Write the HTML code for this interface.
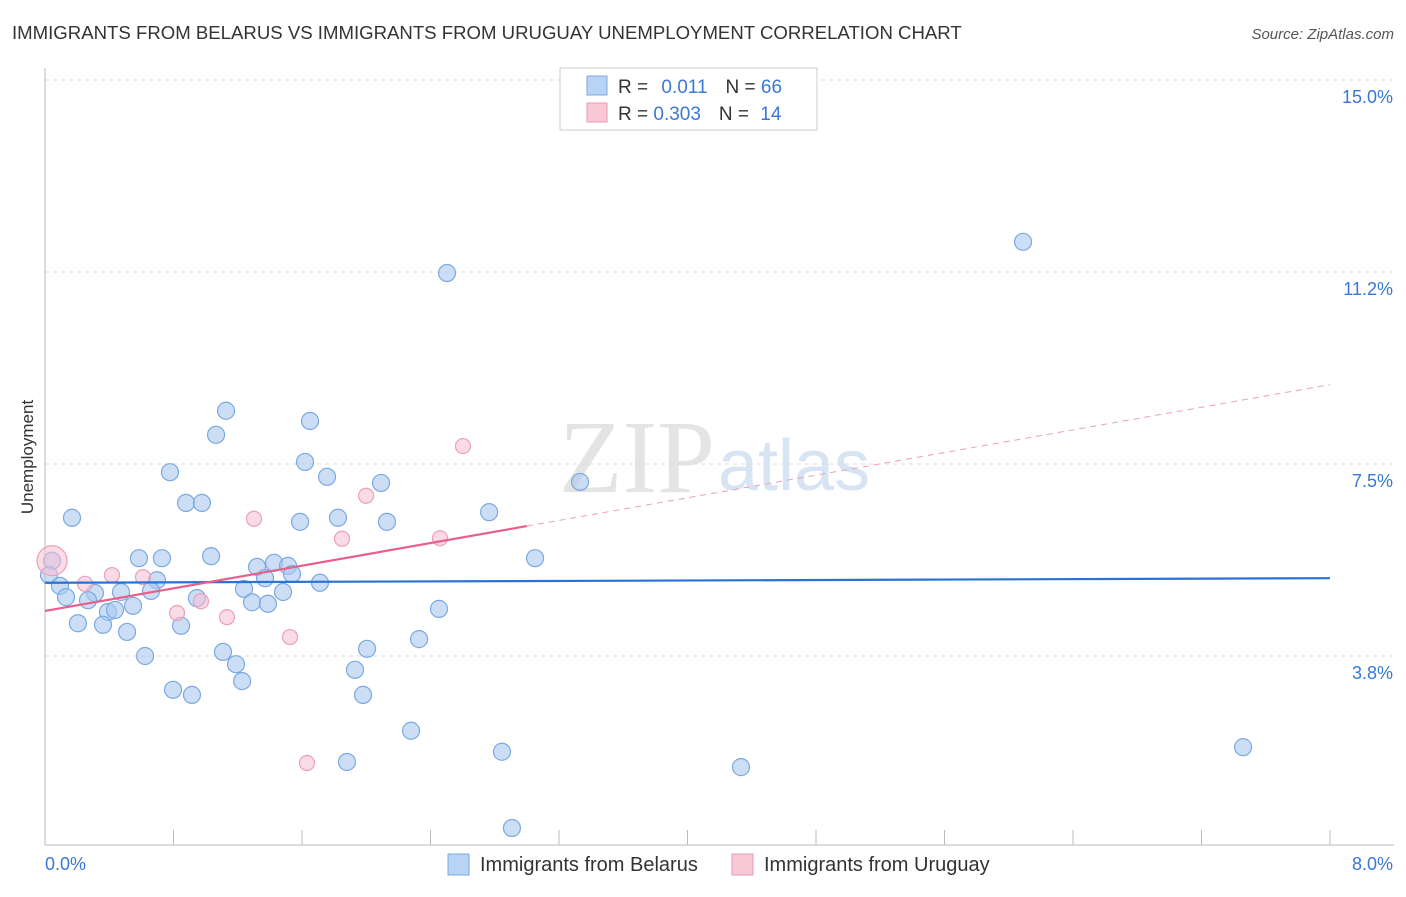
<!DOCTYPE html>
<html><head><meta charset="utf-8"><style>
body{margin:0;background:#fff;font-family:"Liberation Sans",sans-serif;}
</style></head><body>
<svg width="1406" height="892" xmlns="http://www.w3.org/2000/svg" font-family="Liberation Sans, sans-serif">
<text x="12" y="39" font-size="18.6" fill="#333">IMMIGRANTS FROM BELARUS VS IMMIGRANTS FROM URUGUAY UNEMPLOYMENT CORRELATION CHART</text>
<text x="1394" y="39" font-size="15" fill="#555" font-style="italic" text-anchor="end">Source: ZipAtlas.com</text>
<text x="715" y="492" font-size="104" fill="#e4e4e4" text-anchor="end" font-family="Liberation Serif, serif">ZIP</text>
<text x="718" y="490" font-size="72" fill="#d6e4f4">atlas</text>
<g id="grid"></g>
<g id="axes"></g>
<text transform="translate(33,457) rotate(-90)" font-size="17" fill="#333" text-anchor="middle">Unemployment</text>
<g id="marks"></g>
<g>
<rect x="560" y="68" width="257" height="62" fill="#fff" stroke="#ccc"/>
<rect x="587" y="76" width="20" height="19" fill="#b8d4f4" stroke="#7aaae0"/>
<rect x="587" y="103" width="20" height="19" fill="#f8c8d6" stroke="#e89ab2"/>
<text x="618" y="93" font-size="19" fill="#333">R = <tspan fill="#3a78d4" dx="8">0.011</tspan><tspan dx="18" fill="#333">N = </tspan><tspan fill="#3a78d4">66</tspan></text>
<text x="618" y="120" font-size="19" fill="#333">R = <tspan fill="#3a78d4">0.303</tspan><tspan dx="18" fill="#333">N = </tspan><tspan fill="#3a78d4" dx="6">14</tspan></text>
</g>
<g>
<rect x="448" y="854" width="21" height="21" fill="#b8d4f4" stroke="#7aaae0"/>
<text x="480" y="871" font-size="20" fill="#333">Immigrants from Belarus</text>
<rect x="732" y="854" width="21" height="21" fill="#f8c8d6" stroke="#e89ab2"/>
<text x="764" y="871" font-size="20" fill="#333">Immigrants from Uruguay</text>
</g>
</svg>
<script>
const yTicks=[3.75,7.5,11.25,15];
const yTickLabels=["3.8%","7.5%","11.2%","15.0%"];
const xTickLabels=["0.0%","8.0%"];
const belX=[2.503,6.089,1.127,1.065,1.650,1.619,0.778,1.756,2.092,3.331,0.878,0.977,0.168,2.765,1.588,1.824,2.129,0.585,0.728,1.034,3.051,0.044,0.025,0.093,0.131,0.311,0.268,0.473,0.697,0.660,1.320,1.426,1.513,1.370,1.538,1.239,1.712,0.946,1.289,1.388,1.482,0.392,0.436,0.548,0.205,0.361,0.511,0.847,2.453,2.329,0.623,1.108,1.189,2.005,1.930,1.227,0.797,0.915,1.980,2.279,2.845,1.880,4.333,7.459,2.907];
const belY=[11.23,11.84,8.54,8.07,8.34,7.54,7.34,7.25,7.13,7.15,6.74,6.74,6.45,6.56,6.37,6.45,6.37,5.66,5.66,5.70,5.66,5.61,5.33,5.12,4.90,4.98,4.84,5.00,5.23,5.02,5.49,5.57,5.51,5.27,5.35,5.06,5.18,4.88,4.80,4.77,5.00,4.61,4.65,4.73,4.39,4.36,4.22,4.34,4.67,4.08,3.75,3.83,3.59,3.89,3.48,3.26,3.09,2.99,2.99,2.29,1.88,1.68,1.58,1.97,0.39];
const uruX=[0.044,0.249,0.417,0.610,0.822,0.971,1.133,1.301,1.525,1.631,1.849,1.999,2.459,2.602];
const uruY=[5.61,5.16,5.33,5.29,4.59,4.82,4.51,6.43,4.12,1.66,6.04,6.88,6.05,7.85];
const belTrend=[5.18,5.27];
const uruTrend=[4.63,9.05];
const uruSolidEnd=3.0;
const X0=45,X1=1330,Y0=848,YS=51.2;
const sx=v=>X0+v/8*(X1-X0);
const sy=v=>Y0-v*YS;
const NS="http://www.w3.org/2000/svg";
function mk(parent,tag,attrs){const e=document.createElementNS(NS,tag);for(const k in attrs)e.setAttribute(k,attrs[k]);document.getElementById(parent).appendChild(e);return e;}
yTicks.forEach((t,i)=>{
 const l=mk('grid','line',{x1:X0,x2:1394,y1:sy(t),y2:sy(t),stroke:'#ddd','stroke-dasharray':'4,4'});
 
 
 const tx=mk('grid','text',{x:1393,y:sy(t)+23,'font-size':18,fill:'#3a78d4','text-anchor':'end'});
 tx.textContent=yTickLabels[i];
 
 
});
const ya=mk('axes','line',{x1:X0,x2:X0,y1:68,y2:845,stroke:'#bbb'});


const xa=mk('axes','line',{x1:X0,x2:1394,y1:845,y2:845,stroke:'#bbb'});


for(let i=0;i<=10;i++){
 const t=mk('axes','line',{x1:sx(i*0.8),x2:sx(i*0.8),y1:830,y2:845,stroke:'#bbb'});
 
 
}
[[0,'start',45],[1,'end',1393]].forEach(([i,a,x])=>{
 const t=mk('axes','text',{x:x,y:870,'font-size':18,fill:'#3a78d4','text-anchor':a});
 t.textContent=xTickLabels[i];
 
 
});
belX.forEach((x,i)=>{
 const c=mk('marks','circle',{cx:sx(x),cy:sy(belY[i]),r:8.5,fill:'rgba(170,200,240,0.6)',stroke:'#7aaae0','stroke-width':1.2});
 
 
});
uruX.forEach((x,i)=>{
 const c=mk('marks','circle',{cx:sx(x),cy:sy(uruY[i]),r:i===0?15:7.5,fill:'rgba(248,190,210,0.55)',stroke:'#eaa0b8','stroke-width':1.2});
 
 
});
const bl=mk('marks','line',{x1:sx(0),y1:sy(belTrend[0]),x2:sx(8),y2:sy(belTrend[1]),stroke:'#2a72d4','stroke-width':2.2});


const uAt=v=>uruTrend[0]+(uruTrend[1]-uruTrend[0])*v/8;
const ul=mk('marks','line',{x1:sx(0),y1:sy(uAt(0)),x2:sx(uruSolidEnd),y2:sy(uAt(uruSolidEnd)),stroke:'#e8608a','stroke-width':2.2});


const ud=mk('marks','line',{x1:sx(uruSolidEnd),y1:sy(uAt(uruSolidEnd)),x2:sx(8),y2:sy(uAt(8)),stroke:'#eaa0b8','stroke-width':1,'stroke-dasharray':'6,5'});


</script>
</body></html>
